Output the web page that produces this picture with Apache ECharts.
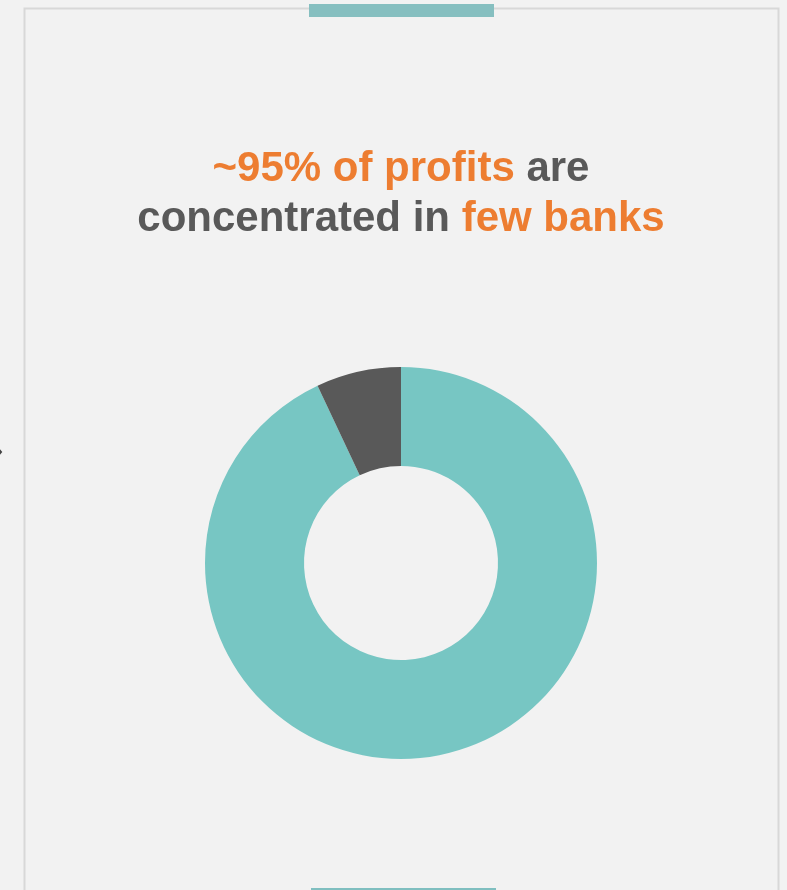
<!DOCTYPE html>
<html>
<head>
<meta charset="utf-8">
<style>
  html, body { margin: 0; padding: 0; background: #f2f2f2; }
  #chart { width: 787px; height: 890px; }
</style>
<script src="https://cdn.jsdelivr.net/npm/echarts@6/dist/echarts.min.js"></script>
</head>
<body>
<div id="chart"></div>
<script>
// Share of profits: the few large banks vs. everyone else
const categories = ['Few banks', 'Other banks'];
const shares = [93, 7];
const sliceColors = ['#77c6c3', '#595959'];

const chart = echarts.init(document.getElementById('chart'), null, { renderer: 'canvas' });

const font = '"Liberation Sans", Arial, sans-serif';
const textStyle = (color) => ({
  color: color,
  fontSize: 42,
  fontWeight: 'bold',
  fontFamily: font,
  lineHeight: 50
});

chart.setOption({
  backgroundColor: '#f2f2f2',
  animation: false,
  title: {
    text: '{o|~95% of profits} {g|are}\n{g|concentrated in} {o|few banks}',
    left: 401,
    top: 144,
    textAlign: 'center',
    padding: 0,
    textStyle: {
      fontSize: 42,
      fontWeight: 'bold',
      fontFamily: font,
      lineHeight: 50,
      color: '#595959',
      rich: {
        o: textStyle('#ed7d31'),
        g: textStyle('#595959')
      }
    }
  },
  graphic: [
    {
      type: 'rect',
      shape: { x: 24.5, y: 8.5, width: 754, height: 900 },
      style: { fill: 'none', stroke: '#d8d8d8', lineWidth: 2 },
      silent: true
    },
    {
      type: 'rect',
      shape: { x: 309, y: 4, width: 185, height: 13 },
      style: { fill: '#86bfc0' },
      silent: true
    },
    {
      type: 'rect',
      shape: { x: 311, y: 888, width: 185, height: 6 },
      style: { fill: '#80bfc0' },
      silent: true
    },
    {
      type: 'polyline',
      shape: { points: [[-4, 446], [1, 452], [-4, 458]] },
      style: { stroke: '#444', lineWidth: 2, fill: 'none' },
      silent: true
    }
  ],
  series: [{
    type: 'pie',
    center: [401, 563],
    radius: [97, 196],
    startAngle: 90,
    clockwise: true,
    silent: true,
    label: { show: false },
    labelLine: { show: false },
    itemStyle: { borderWidth: 0 },
    data: categories.map((name, i) => ({
      name: name,
      value: shares[i],
      itemStyle: { color: sliceColors[i] }
    }))
  }]
});
</script>
</body>
</html>
